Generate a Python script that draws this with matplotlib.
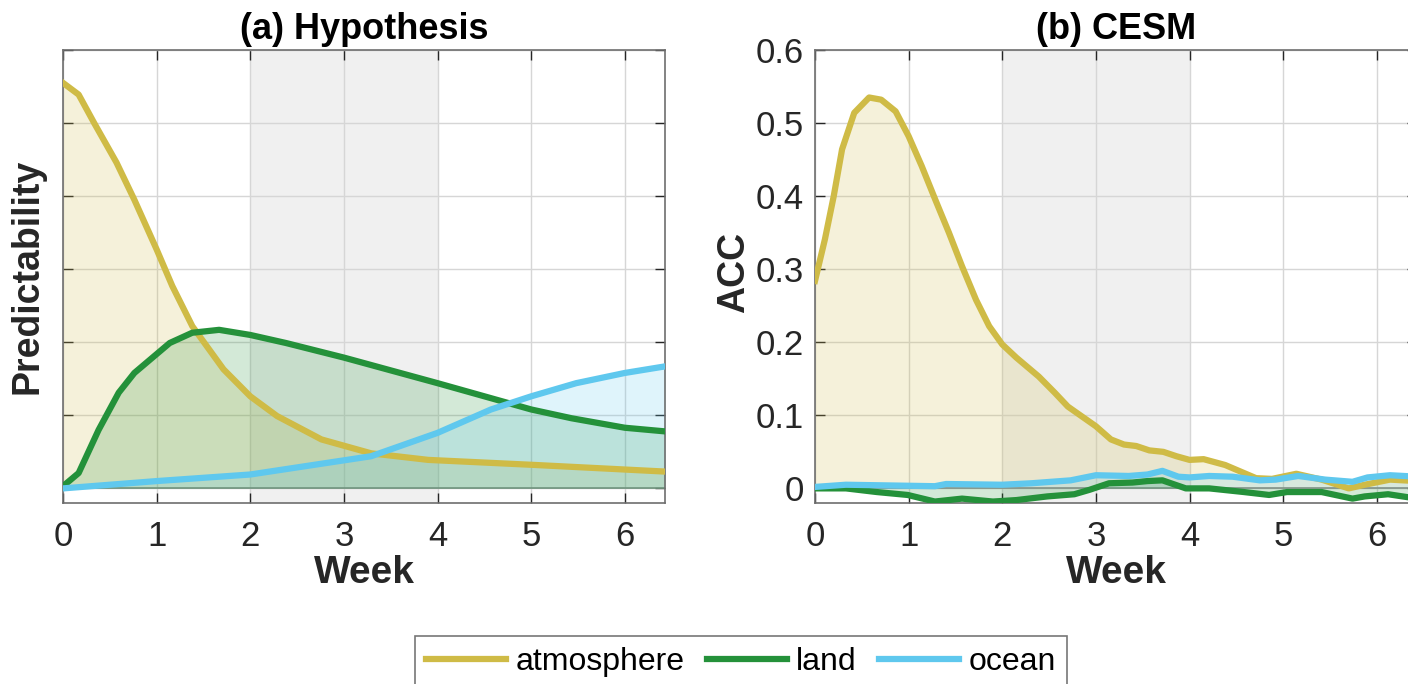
import matplotlib
matplotlib.use("Agg")
import matplotlib.pyplot as plt
from matplotlib.lines import Line2D

plt.rcParams['font.family'] = ['Liberation Sans', 'DejaVu Sans']

# ---------------- data ----------------
# (a) Hypothesis
hyp_atm_x = [0, 0.167, 0.333, 0.571, 0.762, 1.0, 1.167, 1.381, 1.714, 2.0, 2.286, 2.76, 3.29, 3.9, 5.05, 6.43]
hyp_atm_y = [0.555, 0.539, 0.500, 0.446, 0.395, 0.327, 0.277, 0.222, 0.163, 0.126, 0.099, 0.067, 0.048, 0.039, 0.032, 0.023]

hyp_land_x = [0, 0.167, 0.38, 0.595, 0.762, 1.14, 1.38, 1.667, 2.0, 2.38, 3.0, 4.0, 5.0, 5.43, 6.0, 6.43]
hyp_land_y = [0.003, 0.021, 0.080, 0.131, 0.158, 0.199, 0.213, 0.217, 0.210, 0.199, 0.179, 0.144, 0.108, 0.096, 0.083, 0.078]

hyp_ocean_x = [0, 1.0, 2.0, 2.67, 3.29, 4.0, 4.57, 5.0, 5.48, 6.0, 6.43]
hyp_ocean_y = [0.0, 0.010, 0.019, 0.032, 0.044, 0.076, 0.108, 0.126, 0.144, 0.158, 0.167]

# (b) CESM
cesm_atm_x = [0, 0.106, 0.2, 0.289, 0.419, 0.578, 0.707, 0.861, 1.0, 1.14, 1.285, 1.43, 1.57, 1.72, 1.86,
              2.0, 2.15, 2.39, 2.56, 2.70, 3.0, 3.16, 3.3, 3.43, 3.57, 3.72, 3.86, 4.0, 4.15, 4.38,
              4.71, 4.88, 5.14, 5.41, 5.70, 5.87, 6.14, 6.43]
cesm_atm_y = [0.284, 0.341, 0.400, 0.464, 0.514, 0.535, 0.532, 0.516, 0.482, 0.441, 0.395, 0.350, 0.304, 0.258, 0.222,
              0.197, 0.179, 0.153, 0.131, 0.112, 0.085, 0.067, 0.060, 0.058, 0.052, 0.050, 0.044, 0.039, 0.040, 0.032,
              0.014, 0.013, 0.020, 0.012, 0.0, 0.005, 0.012, 0.010]

cesm_ocean_x = [0, 0.33, 1.28, 1.4, 2.0, 2.31, 2.73, 3.0, 3.35, 3.55, 3.71, 3.88, 4.0, 4.21, 4.46, 4.75, 4.92,
                5.16, 5.45, 5.74, 5.9, 6.14, 6.43]
cesm_ocean_y = [0.002, 0.005, 0.003, 0.006, 0.005, 0.007, 0.011, 0.018, 0.017, 0.019, 0.024, 0.016, 0.015, 0.017,
                0.016, 0.011, 0.012, 0.017, 0.012, 0.009, 0.015, 0.018, 0.016]

cesm_land_x = [0, 0.33, 0.66, 0.99, 1.28, 1.57, 1.9, 2.15, 2.48, 2.77, 2.93, 3.14, 3.39, 3.55, 3.71, 3.96, 4.21,
               4.58, 4.85, 5.04, 5.41, 5.74, 5.87, 6.12, 6.43]
cesm_land_y = [0.0, 0.0, -0.005, -0.009, -0.018, -0.014, -0.018, -0.016, -0.011, -0.008, -0.002, 0.007, 0.008,
               0.010, 0.011, 0.0, 0.0, -0.005, -0.009, -0.005, -0.005, -0.014, -0.011, -0.008, -0.014]

series_names = ['atmosphere', 'land', 'ocean']
series_colors = ['#cfbb46', '#24913a', '#5fc8ee']
x_ticks = [0, 1, 2, 3, 4, 5, 6]
y_ticks = [0, 0.1, 0.2, 0.3, 0.4, 0.5, 0.6]
y_ticklabels = ['0', '0.1', '0.2', '0.3', '0.4', '0.5', '0.6']
shade_span = (2, 4)
xlim = (0, 45 / 7)
ylim = (-0.02, 0.6)

# ---------------- figure ----------------
W, H = 1408, 684
fig = plt.figure(figsize=(W / 100, H / 100), dpi=100)

axw = 602 / W
axh = (503 - 50) / H
ax1 = fig.add_axes([63 / W, 1 - 503 / H, axw, axh])
ax2 = fig.add_axes([815 / W, 1 - 503 / H, axw, axh])

edge = '#262626'


def style(ax, show_ylabels):
    ax.set_xlim(*xlim)
    ax.set_ylim(*ylim)
    ax.axvspan(*shade_span, color='#f0f0f0', zorder=0, lw=0)
    ax.set_xticks(x_ticks)
    ax.set_yticks(y_ticks)
    ax.grid(True, color='#d6d6d6', lw=1.0, zorder=1)
    ax.set_axisbelow(True)
    ax.axhline(0, color='#7a7a7a', lw=1.2, zorder=1.5)
    ax.tick_params(direction='in', length=7, width=1, colors=edge, labelsize=25,
                   top=True, right=True, pad=8)
    ax.tick_params(axis='x', pad=12)
    for s in ax.spines.values():
        s.set_color('#6e6e6e')
        s.set_linewidth(1.2)
    if show_ylabels:
        ax.set_yticklabels(y_ticklabels)
    else:
        ax.set_yticklabels([])
    ax.set_xlabel('Week', fontsize=28, fontweight='bold', labelpad=2, color=edge)


def draw(ax, xs, ys, color):
    ax.fill_between(xs, ys, 0, color=color, alpha=0.2, lw=0, zorder=2)
    ax.plot(xs, ys, color=color, lw=4.5, zorder=3, solid_joinstyle='round')


style(ax1, False)
draw(ax1, hyp_atm_x, hyp_atm_y, series_colors[0])
draw(ax1, hyp_land_x, hyp_land_y, series_colors[1])
draw(ax1, hyp_ocean_x, hyp_ocean_y, series_colors[2])
ax1.set_title('(a) Hypothesis', fontsize=26, fontweight='bold', pad=8)
ax1.set_ylabel('Predictability', fontsize=27, fontweight='bold', color=edge)
ax1.yaxis.set_label_coords(-0.029, 0.5)

style(ax2, True)
draw(ax2, cesm_atm_x, cesm_atm_y, series_colors[0])
draw(ax2, cesm_land_x, cesm_land_y, series_colors[1])
draw(ax2, cesm_ocean_x, cesm_ocean_y, series_colors[2])
ax2.set_title('(b) CESM', fontsize=26, fontweight='bold', pad=8)
ax2.set_ylabel('ACC', fontsize=27, fontweight='bold', color=edge)
ax2.yaxis.set_label_coords(-0.105, 0.51)

handles = [Line2D([0], [0], color=c, lw=4.5) for c in series_colors]
leg = fig.legend(handles, series_names, loc='upper center', bbox_to_anchor=(741 / W, 1 - 636 / H),
                 ncol=3, fontsize=23, frameon=True, fancybox=False, handlelength=2.5,
                 columnspacing=0.7, handletextpad=0.3, borderpad=0.35, borderaxespad=0,
                 edgecolor='#555555')
leg.get_frame().set_linewidth(1.2)

fig.savefig('out.png', dpi=100)
